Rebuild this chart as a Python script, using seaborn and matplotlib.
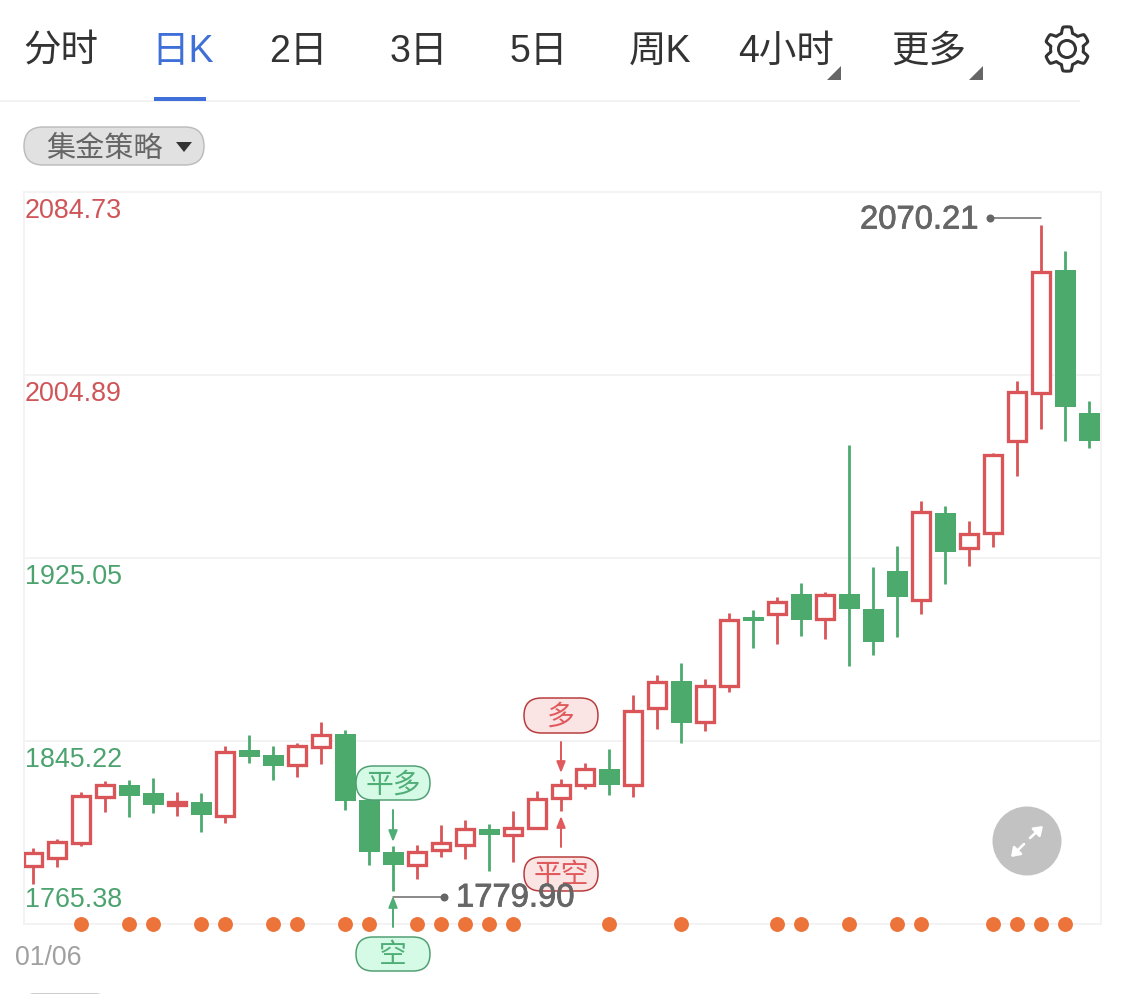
import numpy as np
import pandas as pd
import seaborn as sns
import matplotlib
matplotlib.use("Agg")
import matplotlib.pyplot as plt
import matplotlib.patheffects as pe
from matplotlib.patches import FancyBboxPatch, Polygon, Circle, Rectangle

# ---- data -------------------------------------------------------------
opens = [1790.25,1793.74,1800.28,1820.35,1826.02,1822.53,1816.86,1818.61,1812.06,1841.29,
         1839.11,1834.31,1842.17,1848.27,1819.48,1796.79,1790.68,1797.23,1799.41,1806.83,
         1803.77,1806.83,1819.92,1825.59,1833.00,1825.59,1859.18,1871.40,1853.07,1868.78,
         1899.32,1900.19,1909.35,1898.01,1909.35,1902.81,1919.39,1906.30,1944.69,1928.99,
         1935.53,1975.67,1996.61,2050.71,1988.32]
highs = [1798.54,1802.46,1822.97,1827.77,1828.20,1829.08,1822.97,1822.53,1843.04,1847.84,
         1843.04,1844.35,1853.51,1850.02,1822.10,1799.41,1799.85,1808.57,1810.75,1809.01,
         1814.68,1823.41,1828.64,1835.62,1841.73,1865.29,1874.01,1879.25,1872.27,1901.06,
         1902.37,1908.04,1914.15,1910.22,1974.36,1921.13,1930.29,1949.93,1947.75,1941.20,
         1970.87,2002.28,2070.21,2059.00,1993.55]
lows = [1782.83,1790.25,1799.41,1814.24,1812.06,1813.81,1812.50,1805.52,1809.44,1835.62,
        1828.20,1829.51,1835.18,1815.12,1791.12,1779.90,1785.01,1794.61,1793.74,1788.50,
        1792.43,1806.83,1814.68,1824.28,1821.66,1820.79,1850.45,1844.35,1849.58,1866.60,
        1885.79,1887.54,1891.03,1889.72,1877.94,1882.74,1890.59,1900.63,1913.72,1921.57,
        1929.86,1960.83,1981.34,1976.10,1973.05]
closes = [1796.79,1801.59,1821.66,1826.46,1821.22,1817.30,1819.04,1812.93,1840.86,1838.24,
          1834.31,1843.47,1848.27,1819.04,1796.79,1791.12,1797.23,1801.16,1807.26,1804.21,
          1807.70,1820.35,1826.46,1833.44,1826.02,1858.74,1871.40,1853.07,1869.65,1898.45,
          1897.57,1906.30,1898.01,1909.35,1902.81,1888.41,1908.04,1945.56,1927.68,1935.97,
          1970.43,1997.92,2050.27,1990.94,1976.10]
signal_idx = [2,4,5,7,8,10,11,13,14,16,17,18,19,20,24,27,31,32,34,36,37,40,41,42,43]
price_ticks = [1765.38,1845.22,1925.05,2004.89,2084.73]
price_labels = ["1765.38","1845.22","1925.05","2004.89","2084.73"]
tabs = ["分时","日K","2日","3日","5日","周K","4小时","更多"]
tab_x = [60.5,182.5,298.5,418.5,538.5,660,786.5,928.5]
date_label = "01/06"
strategy_label = "集金策略"

RED, GREEN = "#D95558", "#4DAA6D"
LABEL_RED, LABEL_GREEN = "#CF5559", "#4CA36F"
W, H = 1125, 995
px = 72/100

sns.set_theme(style="white")
plt.rcParams["font.family"] = ["Liberation Sans","Noto Sans CJK SC","DejaVu Sans"]
fig = plt.figure(figsize=(W/100, H/100), dpi=100, facecolor="white")

# ---- chart -------------------------------------------------------------
ax = fig.add_axes([24/W, 1-925/H, (1101-24)/W, (924-192)/H])
XL = (-0.39, 44.49)
ax.set_xlim(*XL)
ax.set_ylim(price_ticks[0], price_ticks[-1])
ax.set_yticks(price_ticks); ax.set_yticklabels([]); ax.set_xticks([])
ax.tick_params(length=0)
ax.grid(axis="y", color="#F3F3F3", lw=2*px)
ax.set_axisbelow(True)
for s in ax.spines.values():
    s.set_color("#F3F3F3"); s.set_linewidth(2*px)

df = pd.DataFrame({"i":np.arange(len(opens)),"o":opens,"h":highs,"l":lows,"c":closes})
df["up"] = df.c >= df.o
unit = (price_ticks[-1]-price_ticks[0])/732   # price per pixel
inset = 0.8*unit
for up, g in df.groupby("up"):
    col = RED if up else GREEN
    ax.vlines(g.i, g.l, g.h, color=col, lw=2.8*px, zorder=2)
    top, bot = g[["o","c"]].max(axis=1), g[["o","c"]].min(axis=1)
    if up:
        ax.bar(g.i, (top-bot-2*inset).clip(lower=0), bottom=bot+inset, width=17.8/24,
               facecolor="white", edgecolor=col, linewidth=3.3*px, zorder=3)
    else:
        ax.bar(g.i, top-bot, bottom=bot, width=21/24, facecolor=col, edgecolor="none", zorder=3)

dots = pd.DataFrame({"i":signal_idx, "y":[price_ticks[0]]*len(signal_idx)})
sns.scatterplot(data=dots, x="i", y="y", ax=ax, s=115, color="#EC7339", linewidth=0,
                clip_on=False, zorder=5, legend=False)
ax.set_xlabel(""); ax.set_ylabel("")
ax.set_xlim(*XL); ax.set_ylim(price_ticks[0], price_ticks[-1])

# price labels sit inside the plot
for p, lab in zip(price_ticks, price_labels):
    col = LABEL_RED if p > 1950 else LABEL_GREEN
    dy = 25 if p == price_ticks[0] else -18
    ax.annotate(lab, xy=(0, p), xycoords=("axes fraction","data"),
                xytext=(0.5, dy*px), textcoords="offset points",
                ha="left", va="center", fontsize=19.4, color=col, zorder=6, annotation_clip=False)

# ---- overlay in pixels -------------------------------------------------
ov = fig.add_axes([0,0,1,1], zorder=10)
ov.set_xlim(0,W); ov.set_ylim(H-1,-1); ov.axis("off"); ov.patch.set_alpha(0)

def pill(x0,y0,x1,y1,fc,ec,r=None,lw=1.5):
    r = (y1-y0)/2 if r is None else r
    ov.add_patch(FancyBboxPatch((x0,y0),x1-x0,y1-y0,boxstyle=f"round,pad=0,rounding_size={r}",
                                fc=fc,ec=ec,lw=lw*px))
def arrow(x,y0,y1,col):
    ov.annotate("",xy=(x,y1),xytext=(x,y0),
                arrowprops=dict(arrowstyle="-|>,head_length=0.55,head_width=0.22",color=col,
                                lw=2*px,shrinkA=0,shrinkB=0))

# tabs
for t,x in zip(tabs,tab_x):
    ov.text(x,51,t,ha="center",va="center",fontsize=27,
            color="#3F70D9" if t=="日K" else "#333333")
ov.add_patch(Rectangle((0,100),1080,2,fc="#F2F2F2",ec="none"))
ov.add_patch(Rectangle((154,97),52,3.5,fc="#3F70D9",ec="none"))
for x in (827,969):
    ov.add_patch(Polygon([[x,80],[x+14,80],[x+14,66]],fc="#666666",ec="none"))

# gear
th = np.linspace(0,2*np.pi,361)
r = 19.3+2.9*np.clip(2.2*np.cos(6*(th-np.pi/2)),-1,1)
ov.add_patch(Polygon(np.c_[1067+r*np.cos(th),49+r*np.sin(th)],closed=True,fc="none",ec="#333333",
                     lw=3*px,joinstyle="round"))
ov.add_patch(Circle((1067,49),8.5,fc="none",ec="#333333",lw=3*px))

# strategy selector
pill(24,127,204,165,"#E1E1E1","#BDBDBD")
ov.text(104.5,148,strategy_label,ha="center",va="center",fontsize=21,color="#666666")
ov.add_patch(Polygon([[176,142],[192,142],[184,152]],fc="#333333",ec="none"))

# trade tags
G_FC,G_EC,G_T = "#D5FAE5","#4F9F73","#4FAE76"
R_FC,R_EC,R_T = "#FBE4E4","#B83A3A","#E0595C"
pill(356,766,430,800,G_FC,G_EC); ov.text(393,784.5,"平多",ha="center",va="center",fontsize=20,color=G_T)
pill(356,937,430,971,G_FC,G_EC); ov.text(393,955.5,"空",ha="center",va="center",fontsize=20,color=G_T)
pill(524,698,598,733,R_FC,R_EC); ov.text(561,717,"多",ha="center",va="center",fontsize=20,color=R_T)
pill(524,857,598,891,R_FC,R_EC); ov.text(561,875.5,"平空",ha="center",va="center",fontsize=20,color=R_T)
arrow(393,810,842,G_T); arrow(393,927,896,G_T)
arrow(561,742,773,R_T); arrow(561,847,816,R_T)

# extreme labels
GREY="#666666"
semi=[pe.withStroke(linewidth=0.6,foreground=GREY)]
ov.plot([393,444],[897,897],color=GREY,lw=1.5*px)
ov.plot([444],[897],"o",color=GREY,ms=8*px,mew=0)
ov.text(456,898,f"{min(lows):.2f}",ha="left",va="center",fontsize=23.6,color=GREY,path_effects=semi)
ov.plot([990,1041],[218,218],color=GREY,lw=1.5*px)
ov.plot([990],[218],"o",color=GREY,ms=8*px,mew=0)
ov.text(978,220,f"{max(highs):.2f}",ha="right",va="center",fontsize=23.6,color=GREY,path_effects=semi)

# date
ov.text(15,957,date_label,ha="left",va="center",fontsize=19.3,color="#A0A0A0")

# expand button
ov.add_patch(Circle((1027,841),34.5,fc="#C2C2C2",ec="none"))
for a,b in (((1030,838),(1043,826)),((1024,844),(1011,857))):
    ov.annotate("",xy=b,xytext=a,arrowprops=dict(arrowstyle="-|>,head_length=0.5,head_width=0.35",
                mutation_scale=10,color="white",lw=2.6*px,shrinkA=0,shrinkB=0))

# next control, cut by the lower edge
pill(24,994,106,1020,"#E1E1E1","#BDBDBD",r=10)

fig.savefig("out.png",dpi=100,facecolor="white")
